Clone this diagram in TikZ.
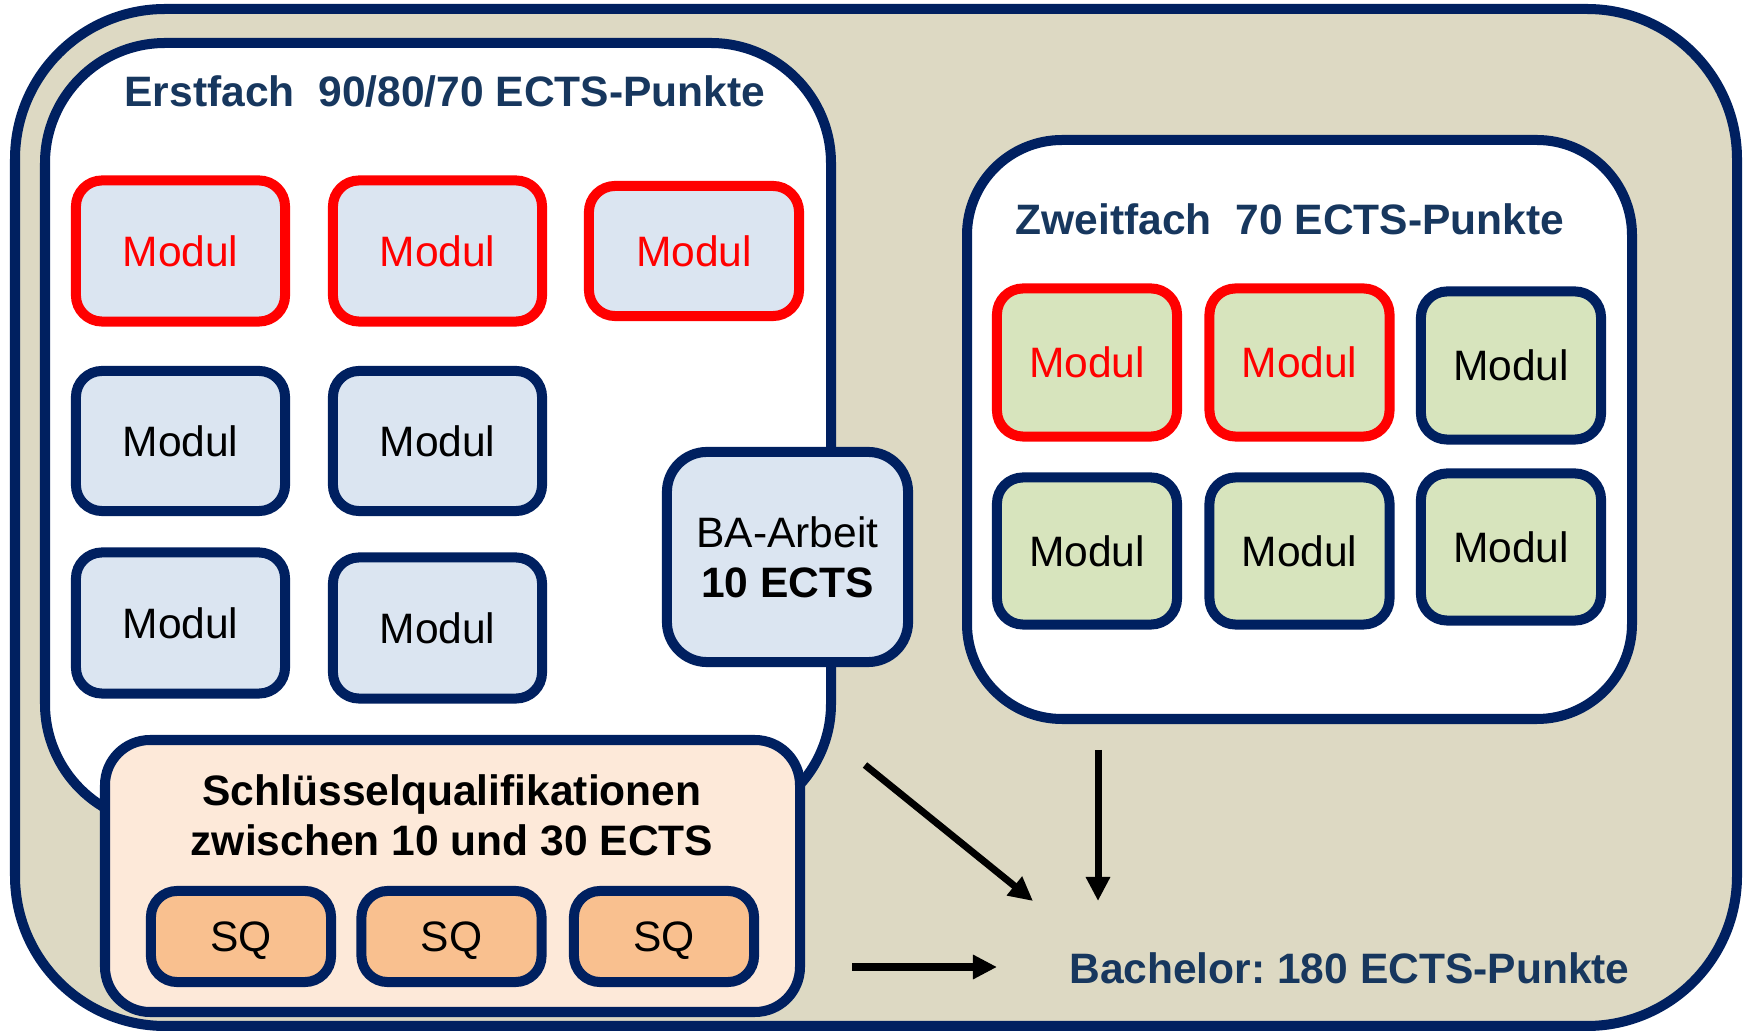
\documentclass[tikz,border=0pt]{standalone}
\usepackage{fontspec}
\setmainfont{Liberation Sans}
\usetikzlibrary{arrows.meta}
\frenchspacing
\definecolor{navy}{HTML}{002060}
\definecolor{titleblue}{HTML}{17375E}
\definecolor{beige}{HTML}{DDD9C3}
\definecolor{lblue}{HTML}{DBE5F1}
\definecolor{lgreen}{HTML}{D7E4BD}
\definecolor{peach}{HTML}{FDE9D9}
\definecolor{sqfill}{HTML}{F9C08F}
\definecolor{mred}{HTML}{FF0000}
\tikzset{
  bord/.style={line width=0.1cm},
  modbox/.style={bord, draw=navy, rounded corners=0.26cm, font=\fontsize{12.1pt}{14.2pt}\selectfont, text=black, inner sep=0pt},
  redbox/.style={modbox, draw=mred, text=mred},
  ebox/.style={fill=lblue, minimum width=2.09cm},
  zbox/.style={fill=lgreen, minimum width=1.80cm},
  sqbox/.style={modbox, fill=sqfill, minimum width=1.80cm, minimum height=0.91cm, text depth=0pt},
  ttl/.style={font=\fontsize{12.1pt}{14.2pt}\selectfont\bfseries, text=titleblue, inner sep=0pt, anchor=base},
  arr/.style={line width=0.07cm, -{Triangle[length=0.24cm,width=0.23cm]}, black},
}
\begin{document}
\begin{tikzpicture}[x=0.01cm,y=-0.01cm]
\useasboundingbox (0,0) rectangle (1748,1031);
% outer frame
\draw[bord, draw=navy, fill=beige, rounded corners=1.5cm] (15,9) rectangle (1737,1026);
% Erstfach
\draw[bord, draw=navy, fill=white, rounded corners=1.2cm] (45,43) rectangle (831,824);
\node[ttl] (etitle) at (445,107) {Erstfach\ \ 90/80/70 ECTS-Punkte};
% Zweitfach
\draw[bord, draw=navy, fill=white, rounded corners=0.95cm] (967,140) rectangle (1632,719);
\node[ttl] (ztitle) at (1290,235) {Zweitfach\ \ 70 ECTS-Punkte};
% Erstfach modules
\node[redbox, ebox, minimum height=1.41cm] (e1) at (180.5,251) {Modul};
\node[redbox, ebox, minimum height=1.41cm] (e2) at (437.5,251) {Modul};
\node[redbox, ebox, minimum width=2.10cm, minimum height=1.30cm] (e3) at (694,251) {Modul};
\node[modbox, ebox, minimum height=1.40cm] (e4) at (180.5,441) {Modul};
\node[modbox, ebox, minimum height=1.40cm] (e5) at (437.5,441) {Modul};
\node[modbox, ebox, minimum height=1.41cm] (e6) at (180.5,623) {Modul};
\node[modbox, ebox, minimum height=1.41cm] (e7) at (437.5,628) {Modul};
% BA-Arbeit
\node[modbox, fill=lblue, minimum width=2.41cm, minimum height=2.10cm, rounded corners=0.4cm, align=center] (ba) at (787.5,557) {BA-Arbeit\\\textbf{10 ECTS}};
% Zweitfach modules
\node[redbox, zbox, minimum height=1.48cm] (z1) at (1087,362.5) {Modul};
\node[redbox, zbox, minimum height=1.48cm] (z2) at (1299.5,362.5) {Modul};
\node[modbox, zbox, minimum height=1.48cm] (z3) at (1511,365.5) {Modul};
\node[modbox, zbox, minimum height=1.47cm] (z4) at (1087,551) {Modul};
\node[modbox, zbox, minimum height=1.47cm] (z5) at (1299.5,551) {Modul};
\node[modbox, zbox, minimum height=1.47cm] (z6) at (1511,547) {Modul};
% SQ block
\draw[bord, draw=navy, fill=peach, rounded corners=0.45cm] (105,740) rectangle (800,1012);
\node[font=\fontsize{12.1pt}{14.2pt}\selectfont\bfseries, align=center, inner sep=0pt] (sqtitle) at (452,815) {Schlüsselqualifikationen\\zwischen 10 und 30 ECTS};
\node[sqbox] (sq1) at (241,936.5) {SQ};
\node[sqbox] (sq2) at (451.5,936.5) {SQ};
\node[sqbox] (sq3) at (664,936.5) {SQ};
% Bachelor
\node[ttl] (bach) at (1349.5,983) {Bachelor: 180 ECTS-Punkte};
% arrows
\coordinate (a1s) at (865,765);
\coordinate (a1e) at (1033,901);
\coordinate (a2s) at (1098,750);
\coordinate (a2e) at (1098,901);
\coordinate (a3s) at (852,967);
\coordinate (a3e) at (997,967);
\draw[arr] (a1s) -- (a1e);
\draw[arr] (a2s) -- (a2e);
\draw[arr] (a3s) -- (a3e);
\end{tikzpicture}
\end{document}
